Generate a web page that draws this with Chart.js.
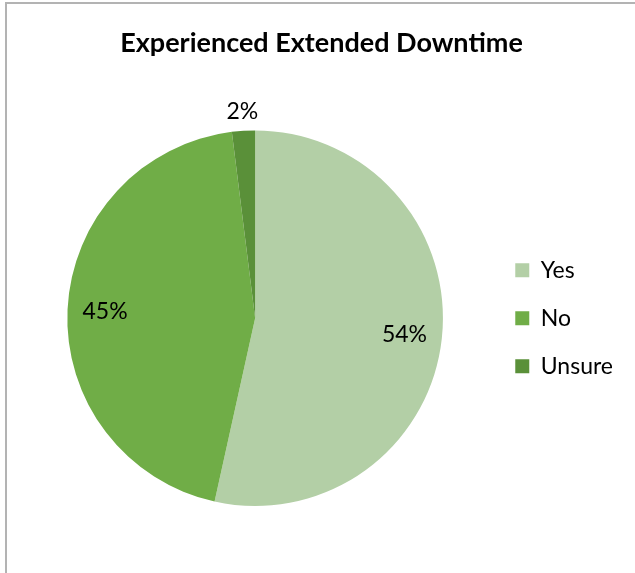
<!DOCTYPE html>
<html>
<head>
<meta charset="utf-8">
<script src="https://cdn.jsdelivr.net/npm/chart.js@4/dist/chart.umd.min.js"></script>
<style>
  html, body { margin: 0; padding: 0; background: #fff; }
  #wrap { position: relative; width: 635px; height: 573px; overflow: hidden; }
  #frame { position: absolute; left: 5px; top: 2px; width: 640px; height: 600px;
           border-left: 2px solid #b3b3b3; border-top: 2px solid #b3b3b3; box-sizing: border-box; }
  canvas { position: absolute; left: 0; top: 0; }
</style>
</head>
<body>
<div id="wrap">
  <div id="frame"></div>
  <canvas id="c" width="635" height="573"></canvas>
</div>
<script>
const chartTitle = 'Experienced Extended Downtime';
const categories = ['Yes', 'No', 'Unsure'];
const percentValues = [54, 45, 2];
const sliceColors = ['#B3CFA6', '#70AD47', '#5A9039'];

const FONT = 'Lato, "Open Sans", sans-serif';

const pieLabels = {
  id: 'pieLabels',
  afterDatasetsDraw(chart) {
    const ctx = chart.ctx;
    const meta = chart.getDatasetMeta(0);
    const data = chart.data.datasets[0].data;
    const total = data.reduce((a, b) => a + b, 0);
    ctx.save();
    ctx.font = '23px ' + FONT;
    ctx.fillStyle = '#000';
    ctx.textAlign = 'center';
    ctx.textBaseline = 'middle';
    meta.data.forEach((arc, i) => {
      const p = arc.getProps(['x', 'y', 'startAngle', 'endAngle', 'outerRadius'], true);
      const mid = (p.startAngle + p.endAngle) / 2;
      const frac = data[i] / total;
      const r = frac < 0.05 ? p.outerRadius + 19 : p.outerRadius * 0.8;
      ctx.fillText(data[i] + '%', p.x + Math.cos(mid) * r, p.y + Math.sin(mid) * r);
    });
    ctx.restore();
  }
};

new Chart(document.getElementById('c'), {
  type: 'pie',
  data: {
    labels: categories,
    datasets: [{
      data: percentValues,
      backgroundColor: sliceColors,
      borderWidth: 0
    }]
  },
  options: {
    responsive: false,
    animation: false,
    layout: { padding: { left: 20, right: 12, top: 0, bottom: 67 } },
    plugins: {
      title: {
        display: true,
        text: chartTitle,
        color: '#000',
        font: { family: FONT, size: 27, weight: 'bold' },
        padding: { top: 27, bottom: 71 }
      },
      legend: {
        position: 'right',
        fullSize: false,
        labels: {
          boxWidth: 14,
          boxHeight: 14,
          padding: 25,
          color: '#000',
          font: { family: FONT, size: 23 }
        }
      },
      tooltip: { enabled: false }
    }
  },
  plugins: [pieLabels]
});
</script>
</body>
</html>
